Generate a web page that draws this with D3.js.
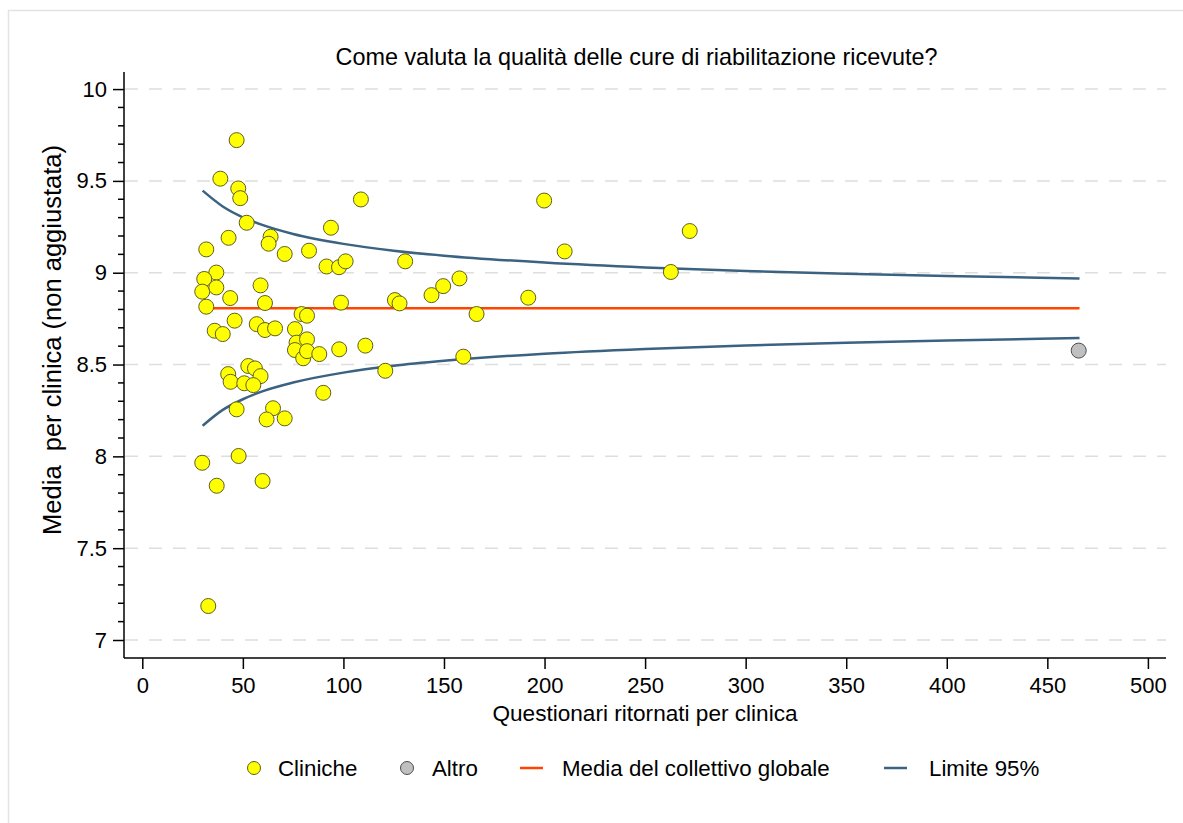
<!DOCTYPE html>
<html>
<head>
<meta charset="utf-8">
<script src="https://cdn.jsdelivr.net/npm/d3@7"></script>
<style>
  html, body { margin: 0; padding: 0; background: #fff; }
  svg { display: block; }
  text { font-family: "Liberation Sans", Arial, sans-serif; fill: #000; }
</style>
</head>
<body>
<svg id="chart" width="1183" height="823"></svg>
<script>
// ---- Data ----
const titleText = "Come valuta la qualità delle cure di riabilitazione ricevute?";
const xTitle = "Questionari ritornati per clinica";
const yTitle = "Media  per clinica (non aggiustata)";

const xTicks = [0, 50, 100, 150, 200, 250, 300, 350, 400, 450, 500];
const yTicks = [7, 7.5, 8, 8.5, 9, 9.5, 10];
const yTickLabels = ["7", "7.5", "8", "8.5", "9", "9.5", "10"];

// Cliniche: questionnaires returned (n) and mean score
const clinicN = [46.9, 38.8, 47.7, 48.7, 108.7, 51.9, 93.8, 42.9, 63.8, 62.8,
  31.8, 70.8, 82.9, 91.6, 97.8, 101.1, 36.8, 30.8, 29.8, 36.8,
  43.7, 58.8, 61.0, 31.8, 98.8, 79.2, 81.9, 36.0, 40.0, 45.9,
  56.9, 61.0, 66.0, 75.9, 76.7, 81.9, 75.9, 80.0, 81.9, 88.0,
  97.9, 110.9, 52.7, 56.0, 58.8, 42.7, 43.9, 50.7, 55.2, 90.0,
  46.9, 65.0, 61.8, 70.8, 29.8, 47.9, 37.0, 59.8, 32.8, 130.7,
  143.8, 149.6, 157.7, 125.6, 127.9, 166.2, 159.6, 120.8, 199.8, 210.0,
  191.9, 262.8, 272.2];
const clinicMean = [9.722, 9.512, 9.459, 9.406, 9.399, 9.272, 9.245, 9.190, 9.196, 9.158,
  9.127, 9.102, 9.120, 9.034, 9.030, 9.062, 9.001, 8.966, 8.897, 8.920,
  8.862, 8.931, 8.835, 8.815, 8.837, 8.775, 8.766, 8.684, 8.666, 8.739,
  8.720, 8.688, 8.697, 8.693, 8.619, 8.637, 8.579, 8.534, 8.573, 8.557,
  8.583, 8.603, 8.492, 8.479, 8.437, 8.448, 8.406, 8.398, 8.388, 8.346,
  8.256, 8.262, 8.201, 8.207, 7.965, 8.002, 7.840, 7.866, 7.185, 9.062,
  8.878, 8.927, 8.969, 8.851, 8.833, 8.775, 8.543, 8.466, 9.393, 9.116,
  8.864, 9.004, 9.227];

// Altro
const otherN = [465.6];
const otherMean = [8.576];

// Media del collettivo globale
const meanN = [30, 466];
const meanValue = [8.807, 8.807];

// Limite 95%
const limitN = [30, 40, 50, 60, 75, 100, 125, 150, 200, 250, 300, 350, 400, 466];
const limitUpper = [9.447, 9.361, 9.302, 9.259, 9.211, 9.157, 9.120, 9.093, 9.055, 9.028, 9.009, 8.994, 8.982, 8.969];
const limitLower = [8.167, 8.253, 8.311, 8.355, 8.402, 8.456, 8.493, 8.520, 8.559, 8.585, 8.604, 8.619, 8.631, 8.644];

const legendLabels = ["Cliniche", "Altro", "Media del collettivo globale", "Limite 95%"];

// ---- Styles ----
const COL_YELLOW = "#ffff00", COL_YELLOW_STROKE = "#5e5e22";
const COL_GRAY = "#c0c0c0", COL_GRAY_STROKE = "#4d4d4d";
const COL_MEAN = "#ff4500";
const COL_LIMIT = "#3b6281";
const COL_GRID = "#dedede";
const FS_TITLE = "23.4px", FS_AXT = "22.6px", FS_YT = "25.5px", FS_TICK = "22px", FS_LEG = "22.3px";

// ---- Layout ----
const svg = d3.select("#chart");
const plot = { left: 124, right: 1166, top: 72, bottom: 658 };

const x = d3.scaleLinear().domain([-9.1, 509]).range([plot.left, plot.right]);
const y = d3.scaleLinear().domain([6.902, 10.093]).range([plot.bottom, plot.top]);

// outer frame (only top & left visible)
svg.append("rect").attr("x", 8.5).attr("y", 10.5).attr("width", 1300).attr("height", 1000)
  .attr("fill", "none").attr("stroke", "#e3e3e3").attr("stroke-width", 1.5);

// title
svg.append("text").attr("x", 636.5).attr("y", 65).attr("text-anchor", "middle")
  .style("font-size", FS_TITLE).text(titleText);

// gridlines
svg.append("g").selectAll("line").data(yTicks).join("line")
  .attr("x1", plot.left + 1).attr("x2", plot.right)
  .attr("y1", d => y(d)).attr("y2", d => y(d))
  .attr("stroke", COL_GRID).attr("stroke-width", 1.5).attr("stroke-dasharray", "13,11");

// y axis
const yMinor = d3.range(70, 101).map(d => d / 10).filter(d => Math.abs(d * 2 - Math.round(d * 2)) > 1e-6);
const yAxis = d3.axisLeft(y).tickValues(yTicks).tickFormat((d, i) => yTickLabels[i]).tickSize(11).tickPadding(6);
const gy = svg.append("g").attr("transform", `translate(${plot.left},0)`).call(yAxis);
gy.select(".domain").attr("d", `M0,${plot.top}V${plot.bottom}`).attr("stroke", "#000").attr("stroke-width", 1.5);
gy.selectAll(".tick line").attr("stroke", "#000").attr("stroke-width", 1.5);
gy.selectAll(".tick text").style("font-size", FS_TICK).style("font-family", "Liberation Sans, Arial, sans-serif");
gy.append("g").selectAll("line").data(yMinor).join("line")
  .attr("x1", -6).attr("x2", 0).attr("y1", d => y(d)).attr("y2", d => y(d))
  .attr("stroke", "#000").attr("stroke-width", 1.5);

// x axis
const xAxis = d3.axisBottom(x).tickValues(xTicks).tickSize(11).tickPadding(8);
const gx = svg.append("g").attr("transform", `translate(0,${plot.bottom})`).call(xAxis);
gx.select(".domain").attr("d", `M${plot.left},0H${plot.right}`).attr("stroke", "#000").attr("stroke-width", 1.5);
gx.selectAll(".tick line").attr("stroke", "#000").attr("stroke-width", 1.5);
gx.selectAll(".tick text").style("font-size", FS_TICK).style("font-family", "Liberation Sans, Arial, sans-serif");

// axis titles
svg.append("text").attr("x", 645).attr("y", 721).attr("text-anchor", "middle")
  .style("font-size", FS_AXT).text(xTitle);
svg.append("text").attr("transform", "translate(61,340) rotate(-90)").attr("text-anchor", "middle")
  .style("font-size", FS_YT).style("white-space", "pre").text(yTitle);

// lines
const lineGen = d3.line().x(d => x(d[0])).y(d => y(d[1])).curve(d3.curveMonotoneX);
svg.append("path").datum(meanN.map((n, i) => [n, meanValue[i]]))
  .attr("d", lineGen).attr("fill", "none").attr("stroke", COL_MEAN).attr("stroke-width", 2.5);
svg.append("path").datum(limitN.map((n, i) => [n, limitUpper[i]]))
  .attr("d", lineGen).attr("fill", "none").attr("stroke", COL_LIMIT).attr("stroke-width", 2.5);
svg.append("path").datum(limitN.map((n, i) => [n, limitLower[i]]))
  .attr("d", lineGen).attr("fill", "none").attr("stroke", COL_LIMIT).attr("stroke-width", 2.5);

// points
svg.append("g").selectAll("circle").data(clinicN.map((n, i) => [n, clinicMean[i]])).join("circle")
  .attr("cx", d => x(d[0])).attr("cy", d => y(d[1])).attr("r", 7.5)
  .attr("fill", COL_YELLOW).attr("stroke", COL_YELLOW_STROKE).attr("stroke-width", 1);
svg.append("g").selectAll("circle").data(otherN.map((n, i) => [n, otherMean[i]])).join("circle")
  .attr("cx", d => x(d[0])).attr("cy", d => y(d[1])).attr("r", 7.5)
  .attr("fill", COL_GRAY).attr("stroke", COL_GRAY_STROKE).attr("stroke-width", 1);

// legend
const ly = 768;
const leg = svg.append("g");
leg.append("circle").attr("cx", 254).attr("cy", ly).attr("r", 6.5).attr("fill", COL_YELLOW).attr("stroke", COL_YELLOW_STROKE);
leg.append("text").attr("x", 278).attr("y", ly + 8).style("font-size", FS_LEG).text(legendLabels[0]);
leg.append("circle").attr("cx", 407).attr("cy", ly).attr("r", 6.5).attr("fill", COL_GRAY).attr("stroke", COL_GRAY_STROKE);
leg.append("text").attr("x", 432).attr("y", ly + 8).style("font-size", FS_LEG).text(legendLabels[1]);
leg.append("line").attr("x1", 520).attr("x2", 543).attr("y1", ly).attr("y2", ly).attr("stroke", COL_MEAN).attr("stroke-width", 2.5);
leg.append("text").attr("x", 562).attr("y", ly + 8).style("font-size", FS_LEG).text(legendLabels[2]);
leg.append("line").attr("x1", 884).attr("x2", 907).attr("y1", ly).attr("y2", ly).attr("stroke", COL_LIMIT).attr("stroke-width", 2.5);
leg.append("text").attr("x", 929).attr("y", ly + 8).style("font-size", FS_LEG).text(legendLabels[3]);
</script>
</body>
</html>
